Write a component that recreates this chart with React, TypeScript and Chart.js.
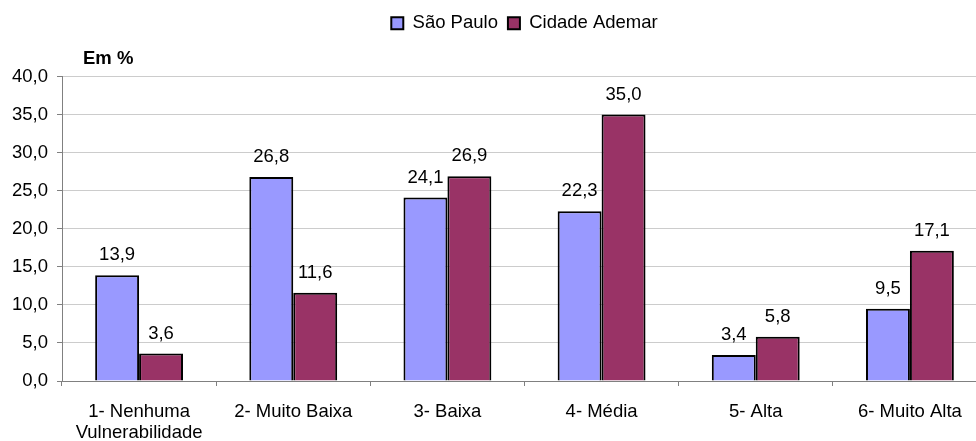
import React, { useEffect, useRef } from "react";
import { Chart, registerables } from "chart.js";

Chart.register(...registerables);

const categories: (string | string[])[] = [
  ["1- Nenhuma", "Vulnerabilidade"],
  "2- Muito Baixa",
  "3- Baixa",
  "4- Média",
  "5- Alta",
  "6- Muito Alta",
];
const saoPaulo = [13.9, 26.8, 24.1, 22.3, 3.4, 9.5];
const cidadeAdemar = [3.6, 11.6, 26.9, 35.0, 5.8, 17.1];
const seriesNames = ["São Paulo", "Cidade Ademar"];
const unitLabel = "Em %";

const FONT = "'Liberation Sans', Arial, sans-serif";
const FS = 18.5;

const fmt = (v: number) => v.toFixed(1).replace(".", ",");

const valueLabels = {
  id: "valueLabels",
  afterDatasetsDraw(chart: any) {
    const ctx = chart.ctx;
    ctx.save();
    ctx.font = `${FS}px ${FONT}`;
    ctx.fillStyle = "#000";
    ctx.textAlign = "center";
    ctx.textBaseline = "middle";
    chart.data.datasets.forEach((ds: any, i: number) => {
      const meta = chart.getDatasetMeta(i);
      meta.data.forEach((el: any, j: number) => {
        ctx.fillText(fmt(ds.data[j]), el.x, el.y - 20);
      });
    });
    ctx.restore();
  },
};

const unitTitle = {
  id: "unitTitle",
  afterDraw(chart: any) {
    const ctx = chart.ctx;
    ctx.save();
    ctx.font = `bold ${FS}px ${FONT}`;
    ctx.fillStyle = "#000";
    ctx.textAlign = "left";
    ctx.textBaseline = "middle";
    ctx.fillText(unitLabel, chart.chartArea.left + 21, chart.chartArea.top - 18);
    ctx.restore();
  },
};

const legendSpacing = {
  id: "legendSpacing",
  beforeInit(chart: any) {
    const orig = chart.legend.fit;
    chart.legend.fit = function () {
      orig.bind(chart.legend)();
      this.height += 34;
    };
  },
};

export default function App() {
  const ref = useRef<HTMLCanvasElement | null>(null);
  useEffect(() => {
    if (!ref.current) return;
    const chart = new Chart(ref.current, {
      type: "bar",
      data: {
        labels: categories,
        datasets: [
          {
            label: seriesNames[0],
            data: saoPaulo,
            backgroundColor: "#9999FF",
            borderColor: "#000000",
            borderWidth: 2,
          },
          {
            label: seriesNames[1],
            data: cidadeAdemar,
            backgroundColor: "#993366",
            borderColor: "#000000",
            borderWidth: 2,
          },
        ],
      },
      options: {
        animation: false,
        responsive: false,
        devicePixelRatio: 1,
        layout: { padding: { top: 4, right: 1, bottom: -17, left: 0 } },
        datasets: {
          bar: { categoryPercentage: 0.57, barPercentage: 1 },
        },
        plugins: {
          legend: {
            position: "top",
            fullSize: false,
            labels: {
              font: { family: FONT, size: FS },
              color: "#000",
              boxWidth: 12,
              boxHeight: 12,
              padding: 10,
            },
          },
          tooltip: { enabled: false },
        },
        scales: {
          x: {
            grid: {
              offset: true,
              drawOnChartArea: false,
              drawTicks: true,
              tickLength: 5,
              tickColor: "#808080",
            },
            border: { color: "#808080", width: 1 },
            ticks: {
              font: { family: FONT, size: FS, lineHeight: 1.135 },
              color: "#000",
              padding: 15,
              maxRotation: 0,
              autoSkip: false,
            },
          },
          y: {
            min: 0,
            max: 40,
            afterFit(scale: any) {
              scale.width = 62;
            },
            grid: {
              color: "#cccccc",
              tickLength: 5,
              tickColor: "#808080",
            },
            border: { color: "#808080", width: 1 },
            ticks: {
              stepSize: 5,
              font: { family: FONT, size: FS },
              color: "#000",
              padding: 9,
              callback: (v: any) => fmt(Number(v)),
            },
          },
        },
      },
      plugins: [valueLabels, unitTitle, legendSpacing],
    });
    return () => chart.destroy();
  }, []);
  return (
    <div
      style={{
        position: "absolute",
        left: 0,
        top: 0,
        width: 976,
        height: 441,
        overflow: "hidden",
        background: "#fff",
      }}
    >
      <canvas ref={ref} width={988} height={441} style={{ display: "block" }} />
    </div>
  );
}
